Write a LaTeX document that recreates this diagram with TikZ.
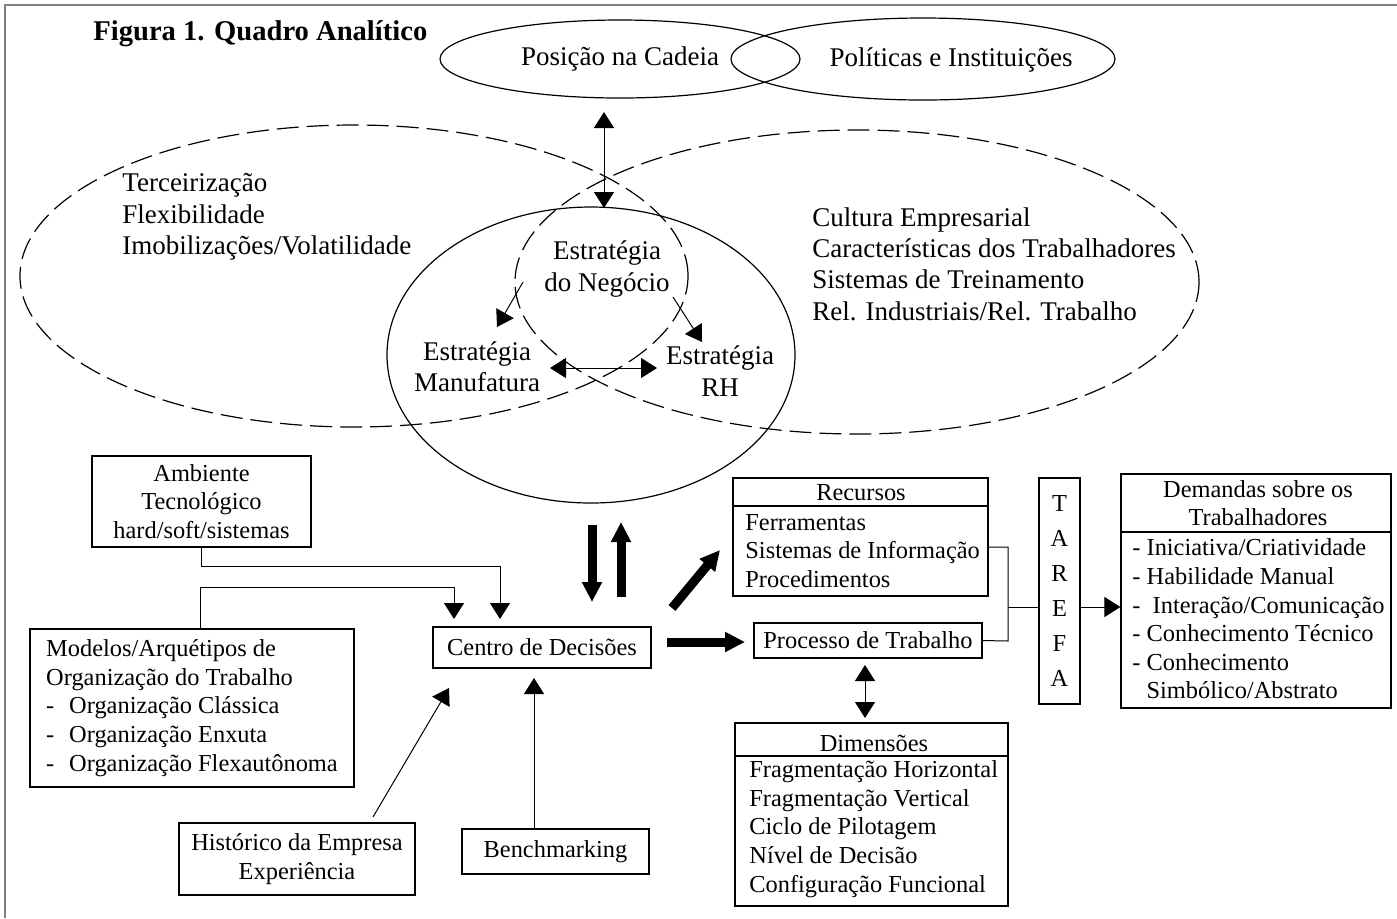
\documentclass[tikz,border=0pt]{standalone}
\usepackage{fontspec}
\setmainfont{Liberation Serif}
\usetikzlibrary{arrows.meta, positioning, shapes.geometric, calc}

\tikzset{
  texto/.style={font=\fontsize{13.5}{15.7}\selectfont, inner sep=0pt},
  caixa/.style={draw, line width=0.6pt, inner sep=0pt, font=\fontsize{12.2}{14.3}\selectfont},
  rotulo/.style={inner sep=0pt, font=\fontsize{12.2}{14.3}\selectfont},
  elipse/.style={draw, ellipse, line width=0.6pt, inner sep=0pt},
  seta/.style={line width=0.5pt, -{Triangle[length=8pt,width=10pt]}},
  setadupla/.style={line width=0.5pt, {Triangle[length=8pt,width=10pt]}-{Triangle[length=8pt,width=10pt]}},
  setagrossa/.style={line width=4.5pt, -{Triangle[length=10pt,width=9.5pt]}},
  tracejada/.style={line width=0.6pt, dash pattern=on 11pt off 4pt},
}

\begin{document}
\begin{tikzpicture}[x=0.5pt, y=-0.5pt]
    \useasboundingbox (0,0) rectangle (1397,918);
    % moldura
    \draw[gray, line width=1pt] (1397,5) -- (5,5) -- (5,918);

    \node[anchor=west, inner sep=0pt, font=\bfseries\fontsize{14.3}{16}\selectfont] (titulo) at (93,34) {Figura 1. Quadro Analítico};

    % elipses do topo
    \node[elipse, texto, minimum width=180pt, minimum height=39pt] (posicao) at (620,59) {Posição na Cadeia};
    \node[elipse, minimum width=192pt, minimum height=41pt] (politicas) at (923,59) {};
    \node[texto] (politicastxt) at (951,60) {Políticas e Instituições};

    % elipses tracejadas e elipse da estrategia
    \draw[tracejada] (354,276) ellipse [x radius=167pt, y radius=75.5pt];
    \draw[tracejada] (857,282) ellipse [x radius=171pt, y radius=76pt];
    \draw[line width=0.6pt] (591,355) ellipse [x radius=102pt, y radius=74pt];

    \node[texto, anchor=west, align=left] (esquerda) at (122,217) {Terceirização\\Flexibilidade\\Imobilizações/Volatilidade};
    \node[texto, anchor=west, align=left] (direita) at (812,264) {Cultura Empresarial\\Características dos Trabalhadores\\Sistemas de Treinamento\\Rel. Industriais/Rel. Trabalho};

    \node[texto, align=center] (negocio) at (607,269) {Estratégia\\do Negócio};
    \node[texto, align=center] (manufatura) at (477,367) {Estratégia\\Manufatura};
    \node[texto, align=center] (rh) at (720,371) {Estratégia\\RH};

    \coordinate (pa) at (604,112);
    \coordinate (pb) at (604,208);
    \draw[setadupla] (pa) -- (pb);
    \coordinate (n1) at (523,282);
    \coordinate (m1) at (497,327);
    \coordinate (n2) at (673,297);
    \coordinate (r1) at (702,342);
    \coordinate (m2) at (550,368);
    \coordinate (r2) at (657,368);
    \draw[seta] (n1) -- (m1);
    \draw[seta] (n2) -- (r1);
    \draw[setadupla] (m2) -- (r2);

    % caixas da esquerda
    \node[caixa, align=center, minimum width=109.5pt, minimum height=45.5pt] (ambiente) at (201.5,501.5) {Ambiente\\Tecnológico\\hard/soft/sistemas};
    \node[caixa, align=left, minimum width=162pt, minimum height=79pt] (modelos) at (192,708) {Modelos/Arquétipos de\\Organização do Trabalho\\\makebox[11.5pt][l]{-}Organização Clássica\\\makebox[11.5pt][l]{-}Organização Enxuta\\\makebox[11.5pt][l]{-}Organização Flexautônoma};
    \node[caixa, minimum width=109pt, minimum height=20.5pt] (centro) at (542,647.5) {Centro de Decisões};
    \node[caixa, align=center, minimum width=118pt, minimum height=36pt] (historico) at (297,859) {Histórico da Empresa\\Experiência};
    \node[caixa, minimum width=93.5pt, minimum height=22.5pt] (benchmarking) at (555.5,851.5) {Benchmarking};

    \coordinate (c1) at (500,619);
    \coordinate (c2) at (454,619);
    \coordinate (c3) at (449,688);
    \coordinate (c4) at (534,678);
    \coordinate (h1) at (373,817);
    \draw[seta] (ambiente.south) -- ++(0,19) -| (c1);
    \draw[seta] (200,0 |- modelos.north) -- ++(0,-41) -| (c2);
    \draw[seta] (h1) -- (c3);
    \draw[seta] (534,0 |- benchmarking.north) -- (c4);

    % setas grossas
    \coordinate (g1) at (592,525);
    \coordinate (g2) at (592,602);
    \coordinate (g3) at (621,597);
    \coordinate (g4) at (621,522);
    \coordinate (g5) at (672,608);
    \coordinate (g6) at (720,550);
    \coordinate (g7) at (667,642);
    \coordinate (g8) at (745,642);
    \draw[setagrossa] (g1) -- (g2);
    \draw[setagrossa] (g3) -- (g4);
    \draw[setagrossa] (g5) -- (g6);
    \draw[setagrossa] (g7) -- (g8);

    % caixas da direita
    \node[caixa, minimum width=127.5pt, minimum height=59pt] (recursos) at (860.5,537) {};
    \draw[line width=0.6pt] (recursos.west |- 0,506) -- (recursos.east |- 0,506);
    \node[rotulo] (recursostit) at (861,493) {Recursos};
    \node[rotulo, anchor=west, align=left] (recursositens) at (745,551) {Ferramentas\\Sistemas de Informação\\Procedimentos};

    \node[caixa, minimum width=114pt, minimum height=17.5pt] (processo) at (868,640.5) {Processo de Trabalho};

    \node[caixa, align=center, minimum width=20.5pt, minimum height=113pt, font=\fontsize{12.2}{17.5}\selectfont] (tarefa) at (1059.5,591) {T\\A\\R\\E\\F\\A};

    \node[caixa, minimum width=135pt, minimum height=117pt] (demandas) at (1256,591) {};
    \draw[line width=0.6pt] (demandas.west |- 0,532) -- (demandas.east |- 0,532);
    \node[rotulo, align=center] (demandastit) at (1258,503) {Demandas sobre os\\Trabalhadores};
    \node[rotulo, anchor=west, align=left] (demandasitens) at (1132,619) {- Iniciativa/Criatividade\\- Habilidade Manual\\-\ \ Interação/Comunicação\\- Conhecimento Técnico\\- Conhecimento\\\hphantom{-}\ Simbólico/Abstrato};

    \node[caixa, minimum width=136.5pt, minimum height=91.5pt] (dimensoes) at (871.5,814.5) {};
    \draw[line width=0.6pt] (dimensoes.west |- 0,756) -- (dimensoes.east |- 0,756);
    \node[rotulo] (dimensoestit) at (874,743) {Dimensões};
    \node[rotulo, anchor=west, align=left] (dimensoesitens) at (749,829) {Fragmentação Horizontal\\Fragmentação Vertical\\Ciclo de Pilotagem\\Nível de Decisão\\Configuração Funcional};

    % ligacoes da direita
    \draw[line width=0.5pt] (recursos.east |- 0,547) -| (1008,641) -- (processo.east);
    \draw[line width=0.5pt] (1008,607) -- (tarefa.west |- 0,607);
    \draw[seta] (tarefa.east |- 0,607) -- (demandas.west |- 0,607);
    \coordinate (d1) at (865,665);
    \coordinate (d2) at (865,718);
    \draw[setadupla] (d1) -- (d2);
\end{tikzpicture}
\end{document}
